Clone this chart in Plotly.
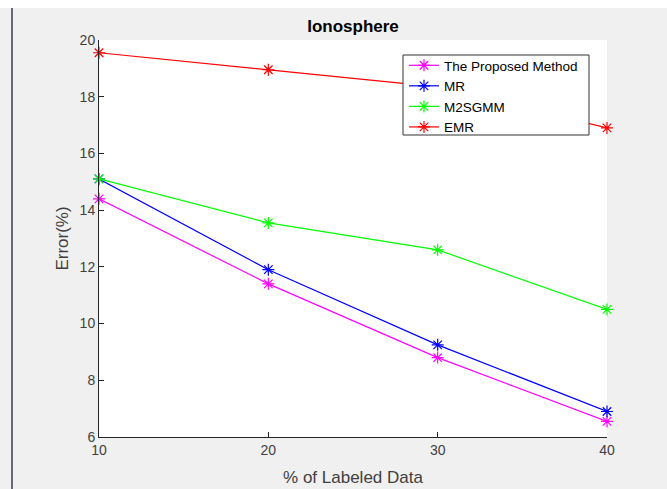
import plotly.graph_objects as go

x_vals = [10, 20, 30, 40]
proposed = [14.4, 11.4, 8.8, 6.55]
mr = [15.1, 11.9, 9.25, 6.9]
m2sgmm = [15.1, 13.55, 12.6, 10.5]
emr = [19.55, 18.95, 18.35, 16.9]

series_names = ["The Proposed Method", "MR", "M2SGMM", "EMR"]
series_vals = [proposed, mr, m2sgmm, emr]
series_colors = ["#ff00ff", "#0000ff", "#00ff00", "#ff0000"]

W, H = 667, 489
L, R, T, B = 99, 607, 40, 437

fig = go.Figure()
for name, vals, col in zip(series_names, series_vals, series_colors):
    fig.add_trace(go.Scatter(
        x=x_vals, y=vals, name=name, mode="lines+markers",
        line=dict(color=col, width=1.2),
        marker=dict(symbol="asterisk-open", size=10, color=col,
                    line=dict(color=col, width=1.2)),
        cliponaxis=False,
    ))

font_family = "Liberation Sans, Arial, sans-serif"

def px_x(p):
    return (p - L) / (R - L)

def px_y(p):
    return (B - p) / (B - T)

fig.update_layout(
    width=W, height=H,
    margin=dict(l=L, r=W - R, t=T, b=H - B),
    paper_bgcolor="#f0f0f0",
    plot_bgcolor="#ffffff",
    font=dict(family=font_family, color="#404040", size=14),
    title=dict(text="<b>Ionosphere</b>", x=(L + R) / 2 / W, xanchor="center",
               y=1 - 26 / H, yanchor="middle", yref="container",
               font=dict(size=17, color="#000000", family=font_family)),
    showlegend=True,
    legend=dict(x=px_x(404), y=px_y(50), xanchor="left", yanchor="top",
                bgcolor="rgba(0,0,0,0)", borderwidth=0,
                font=dict(size=13.5, color="#000000", family=font_family),
                itemwidth=30, tracegroupgap=0),
    xaxis=dict(range=[10, 40], tickvals=x_vals, ticks="inside", ticklen=5,
               tickcolor="#262626", showline=True, linecolor="#262626", linewidth=1,
               mirror=False, showgrid=False, zeroline=False, automargin=False,
               tickfont=dict(size=14, color="#404040"),
               title=dict(text="% of Labeled Data", font=dict(size=17, color="#404040"),
                          standoff=14)),
    yaxis=dict(range=[6, 20], tickvals=[6, 8, 10, 12, 14, 16, 18, 20], ticks="inside",
               ticklen=5, tickcolor="#262626", showline=True, linecolor="#262626",
               linewidth=1, mirror=False, showgrid=False, zeroline=False, automargin=False,
               tickfont=dict(size=14, color="#404040"),
               title=dict(text="Error(%)", font=dict(size=17, color="#404040"),
                          standoff=6)),
    shapes=[
        dict(type="rect", xref="paper", yref="paper",
             x0=px_x(0), x1=px_x(W), y0=px_y(8), y1=px_y(0),
             fillcolor="#ffffff", line=dict(width=0), layer="below"),
        dict(type="line", xref="paper", yref="paper",
             x0=px_x(12), x1=px_x(12), y0=px_y(H), y1=px_y(8),
             line=dict(color="#3a3f4a", width=1.5)),
        dict(type="rect", xref="paper", yref="paper",
             x0=px_x(403), x1=px_x(589), y0=px_y(135), y1=px_y(55),
             fillcolor="#ffffff", line=dict(color="#333333", width=1), layer="above"),
    ],
)

fig.write_html("out.html", post_script="document.body.style.margin='0';",
               config={"displayModeBar": False})
